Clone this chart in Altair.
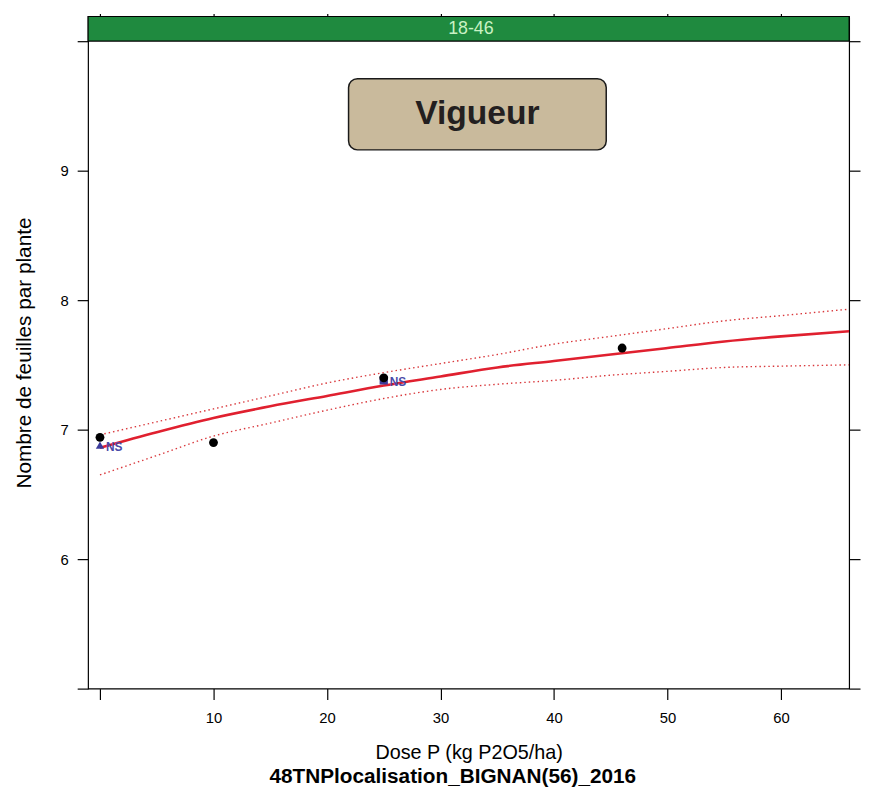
import altair as alt
import pandas as pd

# ---- data ----
dose_obs = [0, 10, 25, 46]
feuilles_obs = [6.94, 6.90, 7.40, 7.63]

dose_fit = [0, 5, 10, 15, 20, 25, 30, 35, 40, 45, 50, 55, 60, 66]
fit = [6.86, 6.98, 7.09, 7.18, 7.26, 7.34, 7.41, 7.48, 7.53, 7.58, 7.63, 7.68, 7.72, 7.76]
upper = [6.96, 7.06, 7.16, 7.26, 7.36, 7.44, 7.51, 7.58, 7.66, 7.72, 7.78, 7.84, 7.88, 7.93]
lower = [6.65, 6.80, 6.95, 7.05, 7.15, 7.24, 7.31, 7.35, 7.38, 7.42, 7.45, 7.48, 7.49, 7.50]

ns_dose = [0, 25]
ns_value = [6.88, 7.38]
ns_shape = ["triangle-up", "square"]
ns_label = ["NS", "NS"]

panel_label = "18-46"
box_text = "Vigueur"
x_ticks = [0, 10, 20, 30, 40, 50, 60]
y_ticks = [5, 6, 7, 8, 9, 10]

# ---- layout constants ----
X_DOM = [-1.05, 66.0]
Y_PANEL_TOP = 10.0
Y_DOM = [5.0, 10.19]
BOX = dict(x=21.9, x2=44.6, y=9.16, y2=9.71)

FONT = "Liberation Sans"
W, H = 770, 680

xs = alt.Scale(domain=X_DOM, nice=False, zero=False)
ys = alt.Scale(domain=Y_DOM, nice=False, zero=False)

obs_df = pd.DataFrame({"dose": dose_obs, "v": feuilles_obs})
fit_df = pd.DataFrame({"dose": dose_fit, "fit": fit, "upper": upper, "lower": lower})
ns_df = pd.DataFrame({"dose": ns_dose, "v": ns_value, "shape": ns_shape, "label": ns_label})
strip_df = pd.DataFrame({"x": [X_DOM[0]], "x2": [X_DOM[1]], "y": [Y_PANEL_TOP], "y2": [Y_DOM[1]],
                         "label": [panel_label], "xm": [(X_DOM[0] + X_DOM[1]) / 2 + 0.2],
                         "ym": [(Y_PANEL_TOP + Y_DOM[1]) / 2]})
box_df = pd.DataFrame({"x": [BOX["x"]], "x2": [BOX["x2"]], "y": [BOX["y"]], "y2": [BOX["y2"]],
                       "label": [box_text], "xm": [(BOX["x"] + BOX["x2"]) / 2],
                       "ym": [(BOX["y"] + BOX["y2"]) / 2]})

# axes: bottom / left carry labels; top / right only ticks
x_bottom = alt.Axis(orient="bottom", values=x_ticks, title="Dose P (kg P2O5/ha)",
                    labelExpr="datum.value == 0 ? '' : datum.label",
                    tickSize=11, labelPadding=11, labelFontSize=15, titleFontSize=20,
                    titleFontWeight="normal", titlePadding=18, domain=False, grid=False,
                    tickColor="black", labelColor="black", titleColor="black", tickWidth=1.2)
y_left = alt.Axis(orient="left", values=y_ticks, title="Nombre de feuilles par plante",
                  labelExpr="(datum.value == 5 || datum.value == 10) ? '' : datum.label",
                  tickSize=11, labelPadding=9, labelFontSize=15, titleFontSize=21,
                  titleFontWeight="normal", titlePadding=26, domain=False, grid=False,
                  tickColor="black", labelColor="black", titleColor="black", tickWidth=1.2)
x_top = alt.Axis(orient="top", values=x_ticks, labels=False, title=None, tickSize=3,
                 domain=False, grid=False, tickColor="black", tickWidth=1.2)
y_right = alt.Axis(orient="right", values=y_ticks, labels=False, title=None, tickSize=11,
                   domain=False, grid=False, tickColor="black", tickWidth=1.2)

# strip (carries top/right axes)
strip = alt.Chart(strip_df).mark_rect(color="#1f8a3f", stroke="black", strokeWidth=1.2).encode(
    x=alt.X("x:Q", scale=xs, axis=x_top), x2="x2:Q",
    y=alt.Y("y:Q", scale=ys, axis=y_right), y2="y2:Q")
strip_txt = alt.Chart(strip_df).mark_text(color="#c9f2c4", fontSize=18, font=FONT).encode(
    x=alt.X("xm:Q", scale=xs, axis=None), y=alt.Y("ym:Q", scale=ys, axis=None), text="label:N")

# Vigueur box
box = alt.Chart(box_df).mark_rect(color="#c9ba9c", stroke="#1a1a1a", strokeWidth=1.5,
                                  cornerRadius=9).encode(
    x=alt.X("x:Q", scale=xs, axis=None), x2="x2:Q",
    y=alt.Y("y:Q", scale=ys, axis=None), y2="y2:Q")
box_txt = alt.Chart(box_df).mark_text(color="#231f20", fontSize=34, fontWeight="bold",
                                      font=FONT, baseline="middle").encode(
    x=alt.X("xm:Q", scale=xs, axis=None), y=alt.Y("ym:Q", scale=ys, axis=None), text="label:N")

# curves (carries bottom/left axes)
base_fit = alt.Chart(fit_df)
upper_line = base_fit.mark_line(color="#d9383c", strokeWidth=1.4, strokeDash=[1.5, 3],
                                interpolate="monotone", clip=True).encode(
    x=alt.X("dose:Q", scale=xs, axis=x_bottom), y=alt.Y("upper:Q", scale=ys, axis=y_left))
lower_line = base_fit.mark_line(color="#d9383c", strokeWidth=1.4, strokeDash=[1.5, 3],
                                interpolate="monotone", clip=True).encode(
    x=alt.X("dose:Q", scale=xs, axis=None), y=alt.Y("lower:Q", scale=ys, axis=None))
fit_line = base_fit.mark_line(color="#e0202f", strokeWidth=2.6, interpolate="monotone",
                              clip=True).encode(
    x=alt.X("dose:Q", scale=xs, axis=None), y=alt.Y("fit:Q", scale=ys, axis=None))

ns_pts = alt.Chart(ns_df).mark_point(filled=True, color="#3b3b9b", size=70, opacity=1).encode(
    x=alt.X("dose:Q", scale=xs, axis=None), y=alt.Y("v:Q", scale=ys, axis=None),
    shape=alt.Shape("shape:N", scale=None))
ns_txt = alt.Chart(ns_df).mark_text(color="#4a4aa8", fontSize=12, fontWeight="bold", font=FONT,
                                    align="left", dx=6, dy=2).encode(
    x=alt.X("dose:Q", scale=xs, axis=None), y=alt.Y("v:Q", scale=ys, axis=None), text="label:N")

pts = alt.Chart(obs_df).mark_circle(color="black", size=80, opacity=1).encode(
    x=alt.X("dose:Q", scale=xs, axis=None), y=alt.Y("v:Q", scale=ys, axis=None))

chart = alt.layer(
    upper_line, strip, strip_txt, box, box_txt, lower_line, fit_line, ns_pts, pts, ns_txt
).resolve_axis(x="independent", y="independent").properties(
    width=W, height=H,
    padding={"left": 5, "top": 0, "right": 0, "bottom": 0},
    title=alt.TitleParams(text="48TNPlocalisation_BIGNAN(56)_2016", orient="bottom",
                          anchor="middle", fontSize=21, fontWeight="bold", font=FONT,
                          color="black", offset=3, dx=-16),
).configure(font=FONT).configure_view(stroke="black", strokeWidth=1.2).configure_axis(
    labelFont=FONT, titleFont=FONT)

chart.save("out.html", embed_options={"renderer": "svg", "actions": False})
